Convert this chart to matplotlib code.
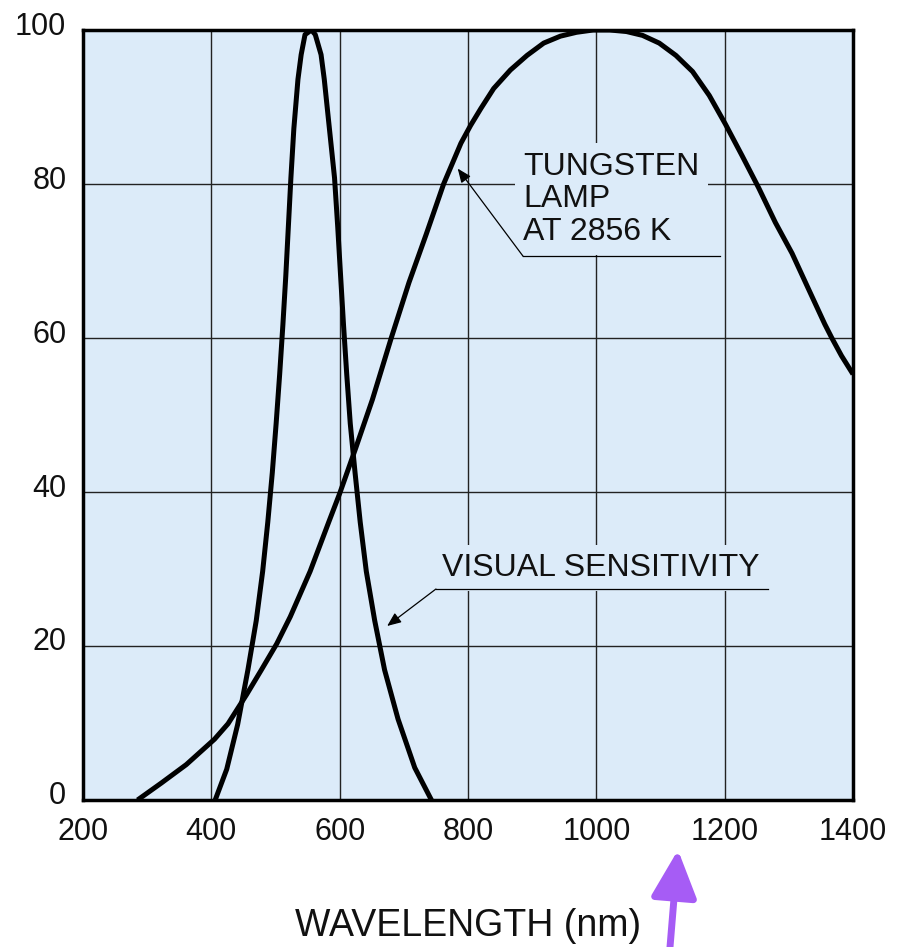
import matplotlib
matplotlib.use("Agg")
import matplotlib.pyplot as plt
import matplotlib.transforms as mtransforms
from matplotlib.patches import FancyArrowPatch

plt.rcParams['font.family'] = ['Liberation Sans', 'DejaVu Sans']

# ---- data ----
tungsten_nm = [285, 322, 361, 405, 426, 455, 478, 502, 523, 554, 583, 600, 625,
               651, 680, 708, 735, 762, 789, 804, 820, 840, 866, 892, 918, 944,
               969, 995, 1021, 1047, 1072, 1098, 1124, 1150, 1176, 1201, 1227,
               1253, 1279, 1305, 1331, 1356, 1367, 1382, 1400]
tungsten_val = [0, 2.2, 4.6, 7.9, 9.9, 13.7, 16.9, 20.3, 23.8, 29.7, 36.1, 39.8, 45.7,
                52, 59.9, 67.2, 73.5, 80, 85.3, 87.6, 89.8, 92.4, 94.8, 96.7, 98.3, 99.2,
                99.7, 100, 100, 99.8, 99.3, 98.3, 96.7, 94.6, 91.5, 87.8, 83.7,
                79.5, 75.0, 71.0, 66.3, 61.8, 60, 57.7, 55.3]

visual_nm = [406, 424, 441, 457, 470, 480, 488, 495, 501, 506.5, 511.5, 516,
             520, 524, 528.6, 535, 540, 546, 556, 562, 571, 576, 584, 592, 597,
             601.5, 606, 611, 616.5, 624, 632, 641.5, 654.6, 670, 691, 717, 743]
visual_val = [0, 4.0, 9.8, 16.9, 23.3, 29.7, 36.1, 42.5, 48.9, 55.3, 61.7, 68,
              74.4, 80.8, 87.2, 93.6, 96.8, 99.4, 100, 99.4, 96.8, 93.6, 87.2, 80.8, 74.4,
              68, 61.7, 55.3, 48.9, 42.5, 36.1, 29.7, 23.3, 16.9, 10.5, 4.2, 0]

x_ticks = [200, 400, 600, 800, 1000, 1200, 1400]
y_ticks = [0, 20, 40, 60, 80, 100]

BG = '#dcebf9'

fig = plt.figure(figsize=(9.03, 9.47), dpi=100)
ax = fig.add_axes([83/903, 1-800/947, 770/903, 770/947])
ax.set_facecolor(BG)
ax.set_xlim(200, 1400)
ax.set_ylim(0, 100)
ax.set_xticks(x_ticks)
ax.set_yticks(y_ticks)
ax.grid(True, color='#222222', lw=1.0, zorder=0)
ax.set_axisbelow(True)
ax.tick_params(length=0, labelsize=22, colors='#111111')
ax.tick_params(axis='y', pad=12)
ax.tick_params(axis='x', pad=12)
for s in ax.spines.values():
    s.set_linewidth(2.5)
    s.set_color('black')

off = mtransforms.ScaledTranslation(0, 7/100, fig.dpi_scale_trans)
for lab in ax.get_yticklabels():
    lab.set_transform(lab.get_transform() + off)

ax.plot(tungsten_nm, tungsten_val, color='black', lw=3.6, zorder=4,
        solid_joinstyle='round', solid_capstyle='butt')
ax.plot(visual_nm, visual_val, color='black', lw=3.6, zorder=4,
        solid_joinstyle='round', solid_capstyle='butt')

# Tungsten annotation
ax.text(886, 71.8, 'TUNGSTEN\nLAMP\nAT 2856 K', fontsize=23, ha='left', va='bottom',
        linespacing=1.12, color='#111111', zorder=3,
        bbox=dict(facecolor=BG, edgecolor='none', pad=6))
ax.plot([886, 1193], [70.6, 70.6], color='black', lw=0.9, zorder=3)
ax.annotate('', xy=(784, 82), xytext=(886, 70.6),
            arrowprops=dict(arrowstyle='-|>,head_length=0.6,head_width=0.25',
                            color='black', lw=0.9, shrinkA=0, shrinkB=0,
                            mutation_scale=14), zorder=5)

# Visual sensitivity annotation
ax.text(760, 28.2, 'VISUAL SENSITIVITY', fontsize=23, ha='left', va='bottom',
        color='#111111', zorder=3,
        bbox=dict(facecolor=BG, edgecolor='none', pad=6))
ax.plot([750, 1267], [27.4, 27.4], color='black', lw=0.9, zorder=3)
ax.annotate('', xy=(674, 22.6), xytext=(750, 27.4),
            arrowprops=dict(arrowstyle='-|>,head_length=0.6,head_width=0.25',
                            color='black', lw=0.9, shrinkA=0, shrinkB=0,
                            mutation_scale=14), zorder=5)

ax.set_xlabel('WAVELENGTH (nm)', fontsize=27, color='#111111', labelpad=44)

# purple arrow
arr = FancyArrowPatch((670/903, 0.0), (678/903, 1-850/947),
                      transform=fig.transFigure,
                      arrowstyle='-|>,head_length=29,head_width=14',
                      mutation_scale=1, lw=5, color='#a65cf5',
                      shrinkA=0, shrinkB=0)
fig.add_artist(arr)

fig.savefig('out.png', dpi=100)
